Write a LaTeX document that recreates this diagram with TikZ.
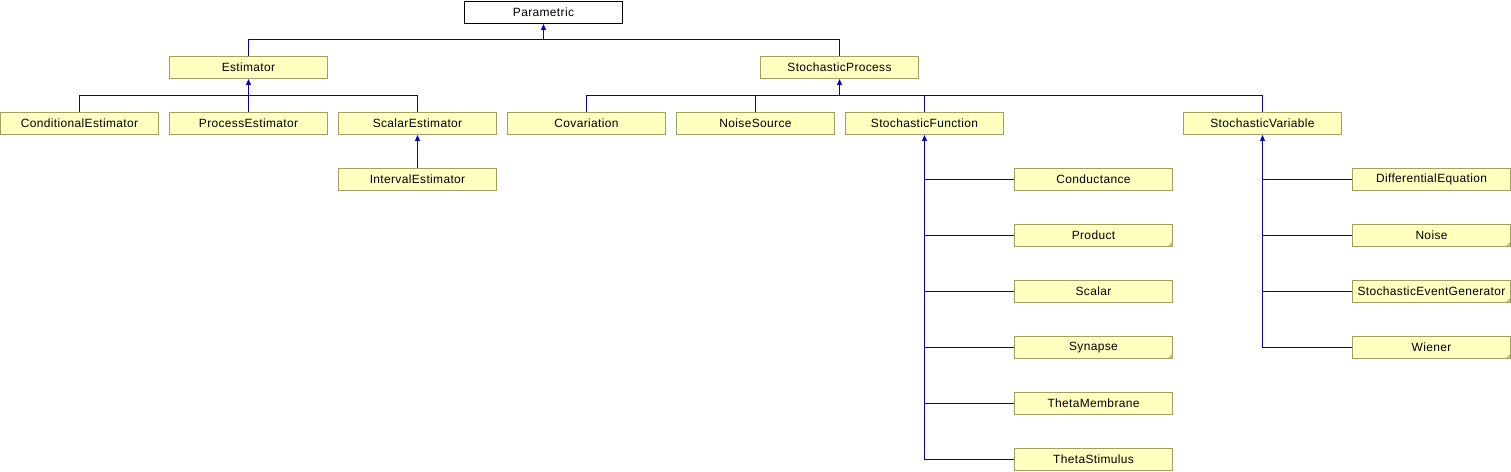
\documentclass[tikz,border=0pt]{standalone}
\usepackage{fontspec}
\setmainfont{Liberation Sans}[LetterSpace=3]
\usetikzlibrary{arrows.meta}

\definecolor{boxfill}{RGB}{255,255,192}
\definecolor{boxline}{RGB}{160,160,96}
\definecolor{edgeblue}{RGB}{0,0,190}

\tikzset{
  cls/.style={draw=boxline, fill=boxfill, line width=1bp, minimum width=158bp,
    minimum height=22bp, inner sep=0pt, font=\fontsize{12}{13}\selectfont},
  root/.style={cls, draw=black, fill=white},
  note/.style={cls, path picture={\fill[boxline!70] (path picture bounding box.south east)
    -- ++(-5bp,0bp) -- ++(5bp,5bp) -- cycle;}},
  link/.style={draw, color=edgeblue, line width=1bp},
  edge/.style={link, -{Triangle[length=6bp,width=5bp]}}
}

\begin{document}
\begin{tikzpicture}[x=1bp,y=-1bp]

  \useasboundingbox (0,0) rectangle (1511,472);

  % Nodes

  \node[root] (param)  at (543.5,12.5)  {Parametric};

  \node[cls]  (est)    at (248.5,67.5)  {Estimator};
  \node[cls]  (sproc)  at (839.5,67.5)  {StochasticProcess};

  \node[cls]  (condest)  at (79.5,123.5)   {ConditionalEstimator};
  \node[cls]  (procest)  at (248.5,123.5)  {ProcessEstimator};
  \node[cls]  (scalest)  at (417.5,123.5)  {ScalarEstimator};
  \node[cls]  (covar)    at (586.5,123.5)  {Covariation};
  \node[cls]  (noisesrc) at (755.5,123.5)  {NoiseSource};
  \node[cls]  (sfunc)    at (924.5,123.5)  {StochasticFunction};
  \node[cls]  (svar)     at (1262.5,123.5) {StochasticVariable};

  \node[cls]  (intest)   at (417.5,179.5)  {IntervalEstimator};

  % StochasticFunction children
  \node[cls]  (conduct)  at (1093.5,179.5) {Conductance};
  \node[note] (product)  at (1093.5,235.5) {Product};
  \node[cls]  (scalar)   at (1093.5,291.5) {Scalar};
  \node[note] (synapse)  at (1093.5,347.5) {Synapse};
  \node[cls]  (thmemb)   at (1093.5,403.5) {ThetaMembrane};
  \node[cls]  (thstim)   at (1093.5,459.5) {ThetaStimulus};

  % StochasticVariable children
  \node[cls]  (diffeq)   at (1431.5,179.5) {DifferentialEquation};
  \node[note] (noise)    at (1431.5,235.5) {Noise};
  \node[note] (seg)      at (1431.5,291.5) {StochasticEventGenerator};
  \node[note] (wiener)   at (1431.5,347.5) {Wiener};

  % Buses
  \draw[link] (est.north) -- ++(0,-16) coordinate (top-bus) -| (sproc.north);
  \draw[edge] (top-bus -| param.south) -- (param.south);

  \draw[link] (condest.north) -- ++(0,-16) coordinate (est-bus) -| (scalest.north);
  \draw[link] (procest.north) -- (procest.north |- est-bus);
  \draw[edge] (est-bus -| est.south) -- (est.south);

  \draw[link] (covar.north) -- ++(0,-16) coordinate (sproc-bus) -| (svar.north);
  \foreach \c in {noisesrc, sfunc}
    \draw[link] (\c.north) -- (\c.north |- sproc-bus);
  \draw[edge] (sproc-bus -| sproc.south) -- (sproc.south);

  \draw[edge] (intest) -- (scalest);

  % Trunks
  \draw[edge] (thstim.west) -| (sfunc.south);
  \foreach \c in {conduct, product, scalar, synapse, thmemb}
    \draw[link] (\c.west) -- (\c.west -| sfunc.south);
  \draw[edge] (wiener.west) -| (svar.south);
  \foreach \c in {diffeq, noise, seg}
    \draw[link] (\c.west) -- (\c.west -| svar.south);

\end{tikzpicture}
\end{document}
